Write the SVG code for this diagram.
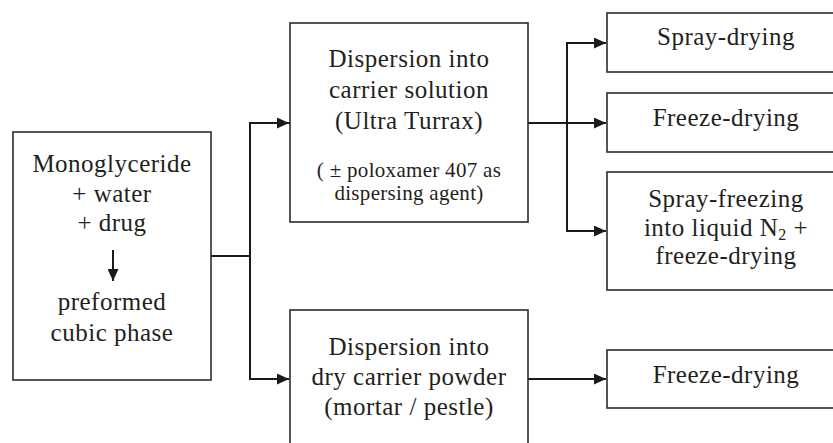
<svg xmlns="http://www.w3.org/2000/svg" width="833" height="443" viewBox="0 0 833 443">
<style>
.box{fill:#fff;stroke:#2b2b2b;stroke-width:1.6}
.t{font-size:25px;letter-spacing:0.5px;fill:#231f20;text-anchor:middle}
.s{font-size:21px;letter-spacing:0.3px}
.c{fill:none;stroke:#1a1a1a;stroke-width:2}
</style>
<defs>
<marker id="ah" markerUnits="userSpaceOnUse" markerWidth="12" markerHeight="11" refX="12" refY="5.5" orient="auto">
<path d="M0,0 L12,5.5 L0,11 Z" fill="#1a1a1a"/>
</marker>
</defs>
<rect width="833" height="443" fill="#fff"/>
<g id="connectors">
<polyline class="c" points="211,256 250,256"/>
<polyline class="c" points="290,123 250,123 250,379 289,379" marker-end="url(#ah)"/>
<line class="c" x1="250" y1="123" x2="289" y2="123" marker-end="url(#ah)"/>
<line class="c" x1="528" y1="123" x2="567" y2="123"/>
<polyline class="c" points="606,43 567,43 567,231 606,231" marker-end="url(#ah)"/>
<line class="c" x1="567" y1="43" x2="606" y2="43" marker-end="url(#ah)"/>
<line class="c" x1="567" y1="123" x2="606" y2="123" marker-end="url(#ah)"/>
<line class="c" x1="528" y1="379" x2="606" y2="379" marker-end="url(#ah)"/>
</g>
<g font-family="Liberation Serif, Tinos, Times New Roman, Times, serif">
<g id="start">
<rect class="box" x="13" y="132" width="198" height="248"/>
<text class="t" x="112" y="172">Monoglyceride</text>
<text class="t" x="112" y="202">+ water</text>
<text class="t" x="112" y="231">+ drug</text>
<line class="c" x1="113" y1="250" x2="113" y2="281" marker-end="url(#ah)"/>
<text class="t" x="112" y="310">preformed</text>
<text class="t" x="112" y="341">cubic phase</text>
</g>
<g id="carrier-solution">
<rect class="box" x="290" y="23" width="238" height="199"/>
<text class="t" x="409" y="67">Dispersion into</text>
<text class="t" x="409" y="98">carrier solution</text>
<text class="t" x="409" y="129">(Ultra Turrax)</text>
<text class="t s" x="409" y="177">( ± poloxamer 407 as</text>
<text class="t s" x="409" y="200">dispersing agent)</text>
</g>
<g id="dry-powder">
<rect class="box" x="290" y="310" width="238" height="150"/>
<text class="t" x="409" y="355">Dispersion into</text>
<text class="t" x="409" y="385">dry carrier powder</text>
<text class="t" x="409" y="415">(mortar / pestle)</text>
</g>
<g id="spray-drying">
<rect class="box" x="607" y="13" width="240" height="59"/>
<text class="t" x="726" y="45">Spray-drying</text>
</g>
<g id="freeze-drying-1">
<rect class="box" x="607" y="93" width="240" height="59"/>
<text class="t" x="726" y="126">Freeze-drying</text>
</g>
<g id="spray-freezing">
<rect class="box" x="607" y="172" width="240" height="118"/>
<text class="t" x="726" y="207">Spray-freezing</text>
<text class="t" x="726" y="236">into liquid N<tspan font-size="16" dy="4">2</tspan><tspan dy="-4"> +</tspan></text>
<text class="t" x="726" y="264">freeze-drying</text>
</g>
<g id="freeze-drying-2">
<rect class="box" x="607" y="350" width="240" height="58"/>
<text class="t" x="726" y="383">Freeze-drying</text>
</g>
</g>
</svg>
